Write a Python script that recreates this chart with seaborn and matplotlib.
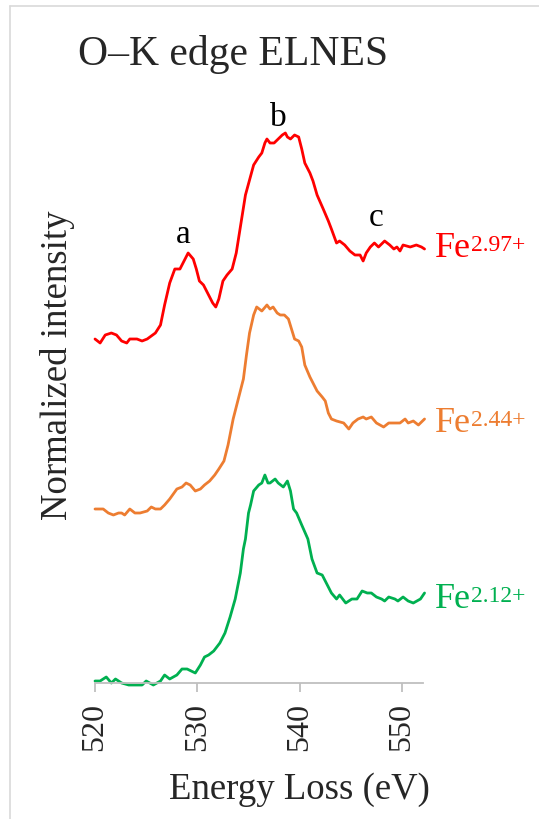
import numpy as np
import pandas as pd
import seaborn as sns
import matplotlib.pyplot as plt
from matplotlib.lines import Line2D

# energy loss (eV) and normalized intensity
red_energy = [520.0, 520.5, 521.0, 521.6, 522.1, 522.6, 523.1, 523.4, 524.1, 524.6, 525.1, 525.9,
              526.4, 526.8, 527.3, 527.8, 528.3, 528.6, 529.1, 529.6, 529.9, 530.2, 530.6, 531.1,
              531.5, 531.8, 532.1, 532.5, 532.9, 533.4, 533.8, 534.7, 535.5, 536.0, 536.3, 536.6,
              536.8, 537.1, 537.5, 537.9, 538.3, 538.6, 538.8, 539.1, 539.5, 539.9, 540.2, 540.5,
              541.0, 541.3, 541.7, 542.3, 542.8, 543.1, 543.6, 543.9, 544.4, 544.9, 545.4, 545.9,
              546.2, 546.5, 546.9, 547.3, 547.7, 548.3, 548.8, 549.2, 549.5, 549.8, 550.1, 550.8,
              551.4, 551.9, 552.2]
red_int = [0.01, -0.01, 0.03, 0.04, 0.03, 0.00, -0.01, 0.01, 0.01, 0.00, 0.01, 0.04,
           0.08, 0.18, 0.29, 0.36, 0.36, 0.39, 0.44, 0.41, 0.36, 0.30, 0.28, 0.23,
           0.19, 0.17, 0.21, 0.30, 0.33, 0.36, 0.44, 0.73, 0.88, 0.92, 0.94, 0.99,
           1.01, 0.99, 0.99, 1.01, 1.03, 1.04, 1.02, 1.01, 1.03, 1.02, 0.96, 0.89,
           0.84, 0.80, 0.73, 0.66, 0.60, 0.56, 0.49, 0.50, 0.48, 0.45, 0.43, 0.43,
           0.40, 0.44, 0.47, 0.49, 0.47, 0.50, 0.48, 0.46, 0.47, 0.45, 0.48, 0.47,
           0.48, 0.47, 0.46]

orange_energy = [520.0, 520.8, 521.3, 521.8, 522.3, 522.6, 522.9, 523.4, 523.9, 524.4, 525.1, 525.5,
                 525.9, 526.4, 526.8, 527.3, 528.0, 528.5, 528.9, 529.3, 529.8, 530.3, 530.7, 531.2,
                 531.7, 532.1, 532.6, 533.0, 533.5, 534.0, 534.5, 534.8, 535.1, 535.5, 535.8, 536.3,
                 536.8, 537.1, 537.4, 537.8, 538.1, 538.5, 538.9, 539.2, 539.5, 539.9, 540.2, 540.5,
                 541.0, 541.3, 541.7, 542.2, 542.5, 542.8, 543.1, 543.6, 544.3, 544.8, 545.2, 545.7,
                 546.2, 546.5, 547.0, 547.5, 548.2, 548.7, 549.2, 549.8, 550.3, 550.6, 551.1, 551.6,
                 552.2]
orange_int = [0.01, 0.01, -0.01, -0.02, -0.01, -0.01, -0.02, 0.01, -0.01, -0.01, 0.00, 0.02,
              0.01, 0.01, 0.03, 0.06, 0.11, 0.12, 0.14, 0.13, 0.10, 0.11, 0.13, 0.15,
              0.18, 0.21, 0.25, 0.33, 0.46, 0.56, 0.66, 0.78, 0.89, 0.98, 1.02, 1.00,
              1.03, 1.01, 1.02, 0.99, 0.98, 0.98, 0.96, 0.91, 0.86, 0.85, 0.82, 0.73,
              0.67, 0.64, 0.60, 0.57, 0.55, 0.49, 0.46, 0.45, 0.44, 0.41, 0.44, 0.46,
              0.47, 0.46, 0.47, 0.44, 0.42, 0.44, 0.44, 0.44, 0.46, 0.44, 0.45, 0.43,
              0.46]

green_energy = [520.0, 520.5, 521.1, 521.6, 522.0, 522.6, 523.3, 523.9, 524.6, 525.0, 525.7, 526.4,
                526.8, 527.3, 528.0, 528.5, 529.0, 529.8, 530.3, 530.7, 531.1, 531.6, 532.2, 532.7,
                533.2, 533.7, 534.2, 534.5, 534.7, 535.0, 535.2, 535.5, 536.0, 536.3, 536.6, 536.9,
                537.1, 537.6, 537.9, 538.4, 538.8, 539.1, 539.4, 539.7, 540.2, 540.8, 541.2, 541.7,
                542.2, 542.6, 543.1, 543.6, 543.9, 544.5, 545.1, 545.6, 546.1, 546.6, 547.0, 547.5,
                548.0, 548.3, 548.7, 549.3, 549.6, 550.1, 550.6, 551.1, 551.8, 552.2]
green_int = [0.01, 0.01, 0.03, 0.00, 0.02, 0.00, -0.01, -0.01, -0.01, 0.01, -0.01, 0.01,
             0.04, 0.02, 0.04, 0.07, 0.07, 0.05, 0.09, 0.13, 0.14, 0.16, 0.20, 0.25,
             0.33, 0.42, 0.55, 0.67, 0.72, 0.85, 0.89, 0.96, 0.99, 1.00, 1.04, 1.00,
             1.00, 1.02, 1.00, 0.98, 1.01, 0.96, 0.87, 0.85, 0.79, 0.72, 0.62, 0.55,
             0.54, 0.50, 0.45, 0.42, 0.44, 0.40, 0.42, 0.42, 0.46, 0.45, 0.45, 0.43,
             0.42, 0.41, 0.43, 0.42, 0.41, 0.43, 0.41, 0.40, 0.42, 0.45]

series_names = ["2.97+", "2.44+", "2.12+"]
series_colors = ["#FF0000", "#ED7D31", "#00B050"]
series_offsets = [1.71, 0.86, 0.0]
label_y = [2.135, 1.26, 0.38]
peak_labels = ["a", "b", "c"]
peak_pos = [(528.6, 2.245), (537.9, 2.83), (547.5, 2.33)]

sns.set_theme(style="white")
plt.rcParams['font.family'] = 'serif'
plt.rcParams['font.serif'] = ['Liberation Serif', 'DejaVu Serif']

fig = plt.figure(figsize=(5.39, 8.20), dpi=100)
ax = fig.add_axes([95/539, 1 - 684/820, 327.5/539, 674/820])

spectra = [(red_energy, red_int), (orange_energy, orange_int), (green_energy, green_int)]
for (e, i), name, col, off, ly in zip(spectra, series_names, series_colors, series_offsets, label_y):
    df = pd.DataFrame({"energy": e, "intensity": np.array(i) + off})
    sns.lineplot(data=df, x="energy", y="intensity", color=col, lw=2.0,
                 estimator=None, ax=ax, clip_on=False)
    t = ax.text(553.2, ly, "Fe", color=col, fontsize=26,
                va="baseline", ha="left", clip_on=False)
    ax.annotate(name, xy=(1, 0), xycoords=t, xytext=(0, 10), textcoords="offset points",
                color=col, fontsize=17, va="baseline", ha="left", annotation_clip=False)

for lab, (px, py) in zip(peak_labels, peak_pos):
    ax.text(px, py, lab, fontsize=24, ha="center", va="center", color="black")

ax.set_xlim(520, 552)
ax.set_ylim(0, 3.37)
ax.set_xticks([520, 530, 540, 550])
ax.set_yticks([])
ax.set_xlabel("")
ax.set_ylabel("")
for s in ["top", "right", "left"]:
    ax.spines[s].set_visible(False)
ax.spines["bottom"].set_color("#bfbfbf")
ax.spines["bottom"].set_linewidth(1.3)
ax.tick_params(axis="x", direction="out", length=6.5, width=1.3, color="#bfbfbf",
               labelsize=23, labelrotation=90, pad=7, bottom=True)

fig.text(78/539, 1 - 65/820, "O–K edge ELNES", fontsize=30, ha="left", va="baseline")
fig.text(58/539, 1 - 365/820, "Normalized intensity", fontsize=26.5, rotation=90,
         ha="center", va="center")
fig.text(299/539, 1 - 790/820, "Energy Loss (eV)", fontsize=26.5, ha="center", va="center")

# light frame at top and left edge
fig.add_artist(Line2D([10/539, 1], [1 - 7/820, 1 - 7/820], color="#d9d9d9", lw=1.2))
fig.add_artist(Line2D([10/539, 10/539], [0, 1 - 7/820], color="#d9d9d9", lw=1.2))

fig.savefig("out.png", dpi=100)
